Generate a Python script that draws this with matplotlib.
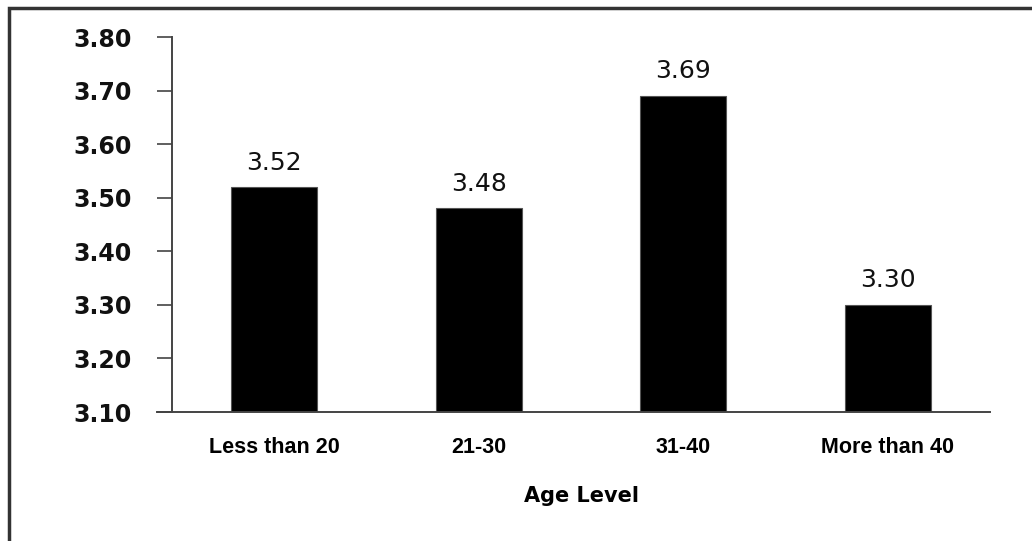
import matplotlib.pyplot as plt
from matplotlib.patches import Rectangle

age_groups = ['Less than 20', '21-30', '31-40', 'More than 40']
mean_scores = [3.52, 3.48, 3.69, 3.30]
y_ticks = [3.10, 3.20, 3.30, 3.40, 3.50, 3.60, 3.70, 3.80]

fig = plt.figure(figsize=(10.32, 5.41), dpi=100)
ax = fig.add_axes([0.1667, 0.2384, 0.7926, 0.6932])

# frame around the whole chart
fig.patches.append(Rectangle((9 / 1032, -0.2), 1.5, 1.2 - 8 / 541,
                             transform=fig.transFigure, fill=False,
                             edgecolor='#333333', linewidth=2.5))

x = range(len(age_groups))
bars = ax.bar(x, mean_scores, width=0.42, color='black', edgecolor='#555555',
              linewidth=0.8)

for rect, val in zip(bars, mean_scores):
    ax.annotate(f'{val:.2f}', (rect.get_x() + rect.get_width() / 2, val),
                xytext=(0, 9), textcoords='offset points', ha='center', va='bottom',
                fontsize=18, family='DejaVu Sans', color='#111111')

ax.set_ylim(3.10, 3.80)
ax.set_xlim(-0.5, 3.5)
ax.set_yticks(y_ticks)
ax.set_yticklabels([f'{t:.2f}' for t in y_ticks], fontsize=17, fontweight='bold',
                   family='DejaVu Sans', color='#111111')
ax.set_xticks(list(x))
ax.set_xticklabels(age_groups, fontsize=15.5, fontweight='bold', family='Liberation Sans')
ax.tick_params(axis='y', length=11, width=1.2, pad=18, color='#444444')
ax.tick_params(axis='x', length=0, pad=18)

for side in ['top', 'right']:
    ax.spines[side].set_visible(False)
ax.spines['left'].set_color('#444444')
ax.spines['left'].set_linewidth(1.4)
ax.spines['bottom'].set_color('#444444')
ax.spines['bottom'].set_linewidth(1.4)
ax.spines['bottom'].set_bounds(-0.5 - 0.075, 3.5)
ax.spines['bottom'].set_clip_on(False)

ax.set_xlabel('Age Level', fontsize=15, fontweight='bold', family='DejaVu Sans', labelpad=20)

fig.savefig('out.png', dpi=100)
